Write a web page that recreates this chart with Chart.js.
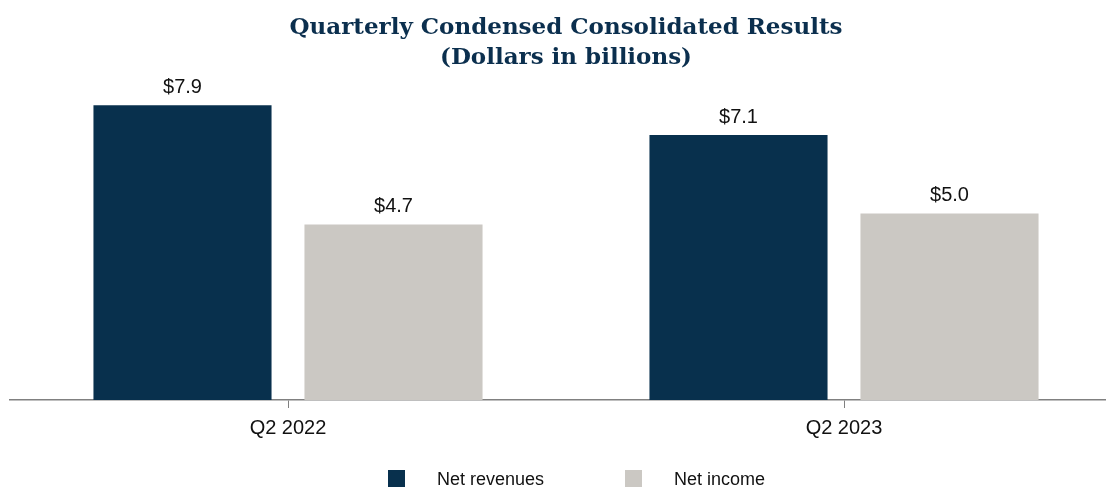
<!DOCTYPE html>
<html>
<head>
<meta charset="utf-8">
<script src="https://cdn.jsdelivr.net/npm/chart.js@4"></script>
<style>
  html, body { margin: 0; padding: 0; overflow: hidden; background: #fff; }
  #wrap { position: relative; width: 1128px; height: 487px; }
  #legend { position: absolute; top: 469px; left: 0; width: 1106px; height: 18px;
            font: 18px "Liberation Sans", Arial, sans-serif; color: #111; }
  .item { position: absolute; top: 0; height: 18px; line-height: 18px; }
  .box { position: absolute; top: 1px; width: 17px; height: 17px; }
  .txt { position: absolute; top: 1px; white-space: nowrap; }
</style>
</head>
<body>
<div id="wrap">
  <canvas id="chart"></canvas>
  <div id="legend"></div>
</div>
<script>
const quarters = ['Q2 2022', 'Q2 2023']
const netRevenues = [7.9, 7.1]
const netIncome = [4.7, 5.0]
const seriesNames = ['Net revenues', 'Net income']
const seriesColours = ['#08304d', '#cbc8c3']

const valueLabels = {
    id: 'valueLabels',
    afterDatasetsDraw(chart) {
        const c = chart.ctx
        c.save()
        c.font = '20px "Liberation Sans", Arial, sans-serif'
        c.fillStyle = '#111'
        c.textAlign = 'center'
        c.textBaseline = 'bottom'
        chart.data.datasets.forEach((ds, i) => {
            chart.getDatasetMeta(i).data.forEach((bar, j) => {
                c.fillText('$' + ds.data[j].toFixed(1), bar.x, bar.y - 8)
            })
        })
        c.restore()
    }
}

const chart = new Chart(document.getElementById('chart'), {
    type: 'bar',
    data: {
        labels: quarters,
        datasets: [
            { label: seriesNames[0], data: netRevenues, backgroundColor: seriesColours[0] },
            { label: seriesNames[1], data: netIncome, backgroundColor: seriesColours[1] }
        ]
    },
    options: {
        responsive: true,
        maintainAspectRatio: false,
        animation: false,
        categoryPercentage: 0.759,
        barPercentage: 0.844,
        layout: { padding: { left: 10, right: 6, top: 0, bottom: 39 } },
        plugins: {
            legend: { display: false },
            tooltip: { enabled: false },
            title: {
                display: true,
                text: ['Quarterly Condensed Consolidated Results', '(Dollars in billions)'],
                color: '#0b2f4e',
                font: { family: '"DejaVu Serif", Georgia, serif', size: 23, weight: 'bold', lineHeight: 1.3 },
                padding: { top: 13, bottom: 10 }
            }
        },
        scales: {
            x: {
                grid: { display: true, drawOnChartArea: false, offset: false, tickLength: 8, color: '#808080' },
                border: { display: true, color: '#808080', width: 1.5 },
                ticks: { color: '#111', font: { family: '"Liberation Sans", Arial, sans-serif', size: 20 }, padding: 8 }
            },
            y: {
                display: false,
                min: 0,
                max: 8.5
            }
        }
    },
    plugins: [valueLabels]
})

const legend = document.getElementById('legend')
const legendPos = [388, 625]
seriesNames.forEach((name, i) => {
    const item = document.createElement('div')
    item.className = 'item'
    item.style.left = legendPos[i] + 'px'
    const box = document.createElement('div')
    box.className = 'box'
    box.style.background = seriesColours[i]
    const txt = document.createElement('div')
    txt.className = 'txt'
    txt.style.left = '49px'
    txt.textContent = name
    item.appendChild(box)
    item.appendChild(txt)
    legend.appendChild(item)
})
</script>
</body>
</html>
